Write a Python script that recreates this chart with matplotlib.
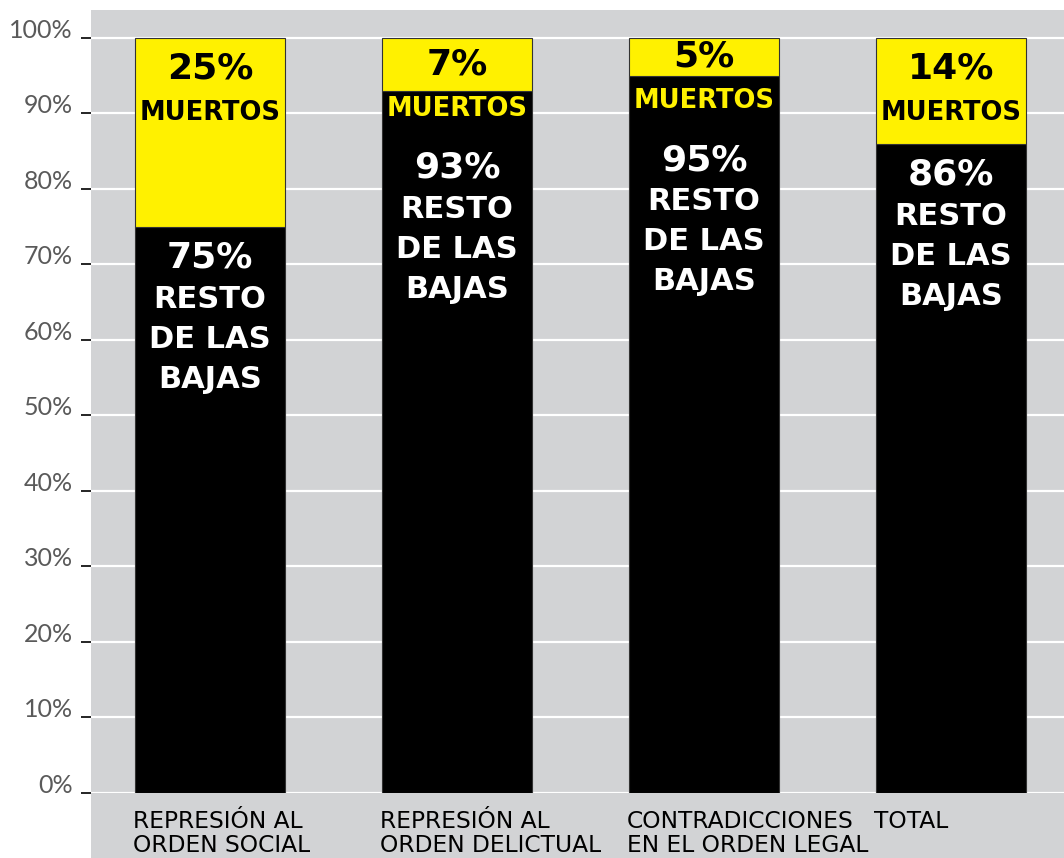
import matplotlib.pyplot as plt
from matplotlib.patches import Rectangle

# Share of casualties per category (percent)
categories = [
    "REPRESIÓN AL\nORDEN SOCIAL",
    "REPRESIÓN AL\nORDEN DELICTUAL",
    "CONTRADICCIONES\nEN EL ORDEN LEGAL",
    "TOTAL",
]
resto = [75, 93, 95, 86]
muertos = [25, 7, 5, 14]
y_ticks = list(range(0, 101, 10))
y_tick_labels = [f"{t}%" for t in y_ticks]

GRAY = "#d2d3d5"
YELLOW = "#fff100"
W, H = 1064, 858


def main() -> None:
    fig = plt.figure(figsize=(W / 100, H / 100), dpi=100, facecolor="white")

    # gray panel that also holds the category labels, kept behind the axes
    fig.patches.append(
        Rectangle((91 / W, 0), 1 - 91 / W, (H - 10) / H,
                  transform=fig.transFigure, facecolor=GRAY, edgecolor="none", zorder=-5)
    )

    ax = fig.add_axes([91 / W, 65 / H, 973 / W, 783 / H])
    ax.set_facecolor(GRAY)
    ax.set_xlim(-0.482, 3.457)
    ax.set_ylim(0, 103.7)
    for spine in ax.spines.values():
        spine.set_visible(False)

    ax.set_axisbelow(True)
    ax.yaxis.grid(True, color="white", linewidth=1.6)
    ax.set_yticks(y_ticks, labels=y_tick_labels, va="baseline",
                  color="#5a5a5a", fontsize=18, fontfamily="Lato")
    ax.tick_params(axis="y", length=7, width=1.2, color="black", pad=6)
    ax.set_xticks([])

    xs = list(range(len(categories)))
    width = 0.607
    ax.bar(xs, resto, width=width, color="black", edgecolor="#333333", linewidth=0.8, zorder=2)
    ax.bar(xs, muertos, width=width, bottom=resto, color=YELLOW,
           edgecolor="#333333", linewidth=0.8, zorder=2)

    bold = dict(ha="center", va="center", fontweight="bold", fontfamily="DejaVu Sans", zorder=3)
    for x, r, m, cat in zip(xs, resto, muertos, categories):
        top = r + m
        pct_y = max(top - m / 2, top - 4)
        ax.text(x, pct_y, f"{m}%", color="black", fontsize=26, **bold)
        mu_y = pct_y - 5.9
        in_yellow = m >= 10
        ax.text(x, mu_y, "MUERTOS", color="black" if in_yellow else YELLOW,
                fontsize=18.5, **bold)
        start = r - 4.1 if in_yellow else mu_y - 7.8
        ax.text(x, start, f"{r}%", color="white", fontsize=26, **bold)
        for i, line in enumerate(["RESTO", "DE LAS", "BAJAS"]):
            ax.text(x, start - 5.5 - 5.3 * i, line, color="white", fontsize=22, **bold)

        ax.text(x - width / 2 - 0.008, -2.2, cat, ha="left", va="top", fontsize=16.8,
                fontfamily="DejaVu Sans", color="black", linespacing=1.08,
                clip_on=False)

    fig.savefig("out.png", dpi=100, facecolor="white")
    plt.close(fig)


if __name__ == "__main__":
    main()
